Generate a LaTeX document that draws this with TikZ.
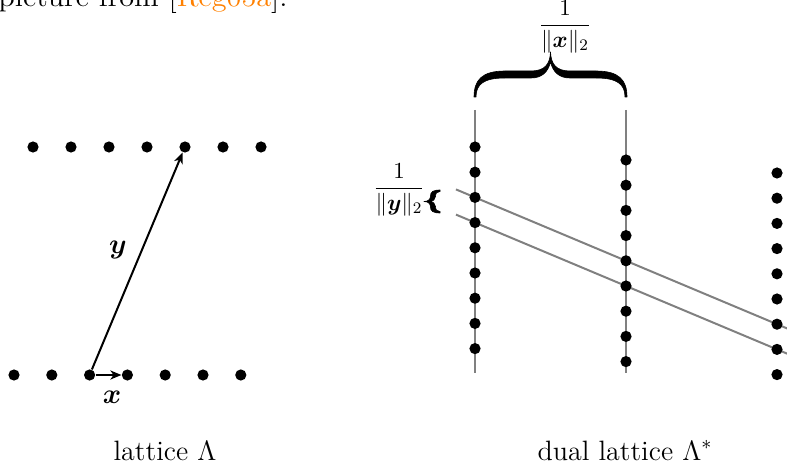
\documentclass[tikz,border=0pt]{standalone}
\usepackage{fix-cm}
\usepackage{amsmath}
\usepackage{fontspec}
\usetikzlibrary{arrows.meta,calc}
\definecolor{citeorange}{RGB}{255,128,0}
\definecolor{linegray}{RGB}{128,128,128}
\tikzset{
  dot/.style={circle, fill=black, inner sep=0pt, minimum size=5.6pt},
  grayline/.style={draw=linegray, line width=1pt},
  vec/.style={-{Stealth[length=5.5pt,width=4.5pt,inset=1.6pt]}, line width=1pt},
  txt/.style={font=\fontsize{14}{17}\selectfont, inner sep=0pt},
  fraclab/.style={font=\fontsize{11.5}{13}\selectfont, inner sep=0pt},
  bracefill/.style={fill=black, draw=black, line width=0.3pt, line join=round},
}
\begin{document}
\begin{tikzpicture}[x=0.5pt,y=-0.5pt]
\useasboundingbox (0,0) rectangle (787,470);
% cut-off text at the top
\node[txt, anchor=base east] (cite) at (288,7) {\scalebox{1.08}[1]{picture from [\textcolor{citeorange}{Reg05a}].}};

% ---------- lattice ----------
\foreach \k in {0,...,6} {
  \node[dot] (t\k) at ({33+38*\k},147) {};
  \node[dot] (b\k) at ({14+37.8*\k},375) {};
}
\draw[vec] (b2) -- (t4);
\draw[vec] (b2) -- (b3);
\node[txt] (ylab) at (118,250) {$\boldsymbol{y}$};
\node[txt] (xlab) at (112,397) {$\boldsymbol{x}$};
\node[txt, anchor=base] (cap1) at (165,460) {lattice $\Lambda$};

% ---------- dual lattice ----------
\coordinate (v1top) at (475,110);
\coordinate (v1bot) at (475,373);
\coordinate (v2top) at (626,110);
\coordinate (v2bot) at (626,373);
\draw[grayline] (v1top) -- (v1bot);
\draw[grayline] (v2top) -- (v2bot);

\coordinate (pa1) at (475,197.4);
\coordinate (pa2) at (626,260.8);
\coordinate (pb1) at (475,222.6);
\coordinate (pb2) at (626,286.0);
\draw[grayline] ($(pa1)!-0.126!(pa2)$) coordinate (la) -- ($(pa1)!2.07!(pa2)$) coordinate (ra);
\draw[grayline] ($(pb1)!-0.126!(pb2)$) coordinate (lb) -- ($(pb1)!2.07!(pb2)$) coordinate (rb);

\foreach \k in {0,...,8} {
  \node[dot] (c1-\k) at (475,{147+25.2*\k}) {};
  \node[dot] (c2-\k) at (626,{160+25.2*\k}) {};
  \node[dot] (c3-\k) at (777,{173+25.2*\k}) {};
}

% calligraphic brace over the two lines
\fill[bracefill]
  (474,97) .. controls (474,80) and (482,71) .. (505,71)
  -- (531,71) .. controls (545,71) and (550,64) .. (550.5,52)
  .. controls (551,64) and (556,71) .. (570,71)
  -- (596,71) .. controls (619,71) and (627,80) .. (627,97)
  -- (625,97) .. controls (625,84) and (617,78) .. (596,78)
  -- (570,78) .. controls (559,78) and (553,72) .. (550.5,62)
  .. controls (548,72) and (542,78) .. (531,78)
  -- (505,78) .. controls (484,78) and (476,84) .. (476,97) -- cycle;
\node[fraclab] (xnorm) at (565,27) {$\dfrac{1}{\|\boldsymbol{x}\|_2}$};
\node[fraclab] (ynorm) at (399,190) {$\dfrac{1}{\|\boldsymbol{y}\|_2}$};

% small bold brace beside the y-fraction
\fill[bracefill]
  (440,190) .. controls (433,190) and (430.5,192) .. (430.5,196)
  .. controls (430.5,199.5) and (428,201.5) .. (424,201.5)
  .. controls (428,201.5) and (430.5,203.5) .. (430.5,207)
  .. controls (430.5,211) and (433,213) .. (440,213)
  -- (440,211.5) .. controls (437,211.5) and (435.5,210) .. (435.5,206.5)
  .. controls (435.5,203.5) and (433,201.5) .. (429,201.5)
  .. controls (433,201.5) and (435.5,199.5) .. (435.5,196.5)
  .. controls (435.5,193) and (437,191.5) .. (440,191.5) -- cycle;

\node[txt, anchor=base] (cap2) at (625,460) {dual lattice $\Lambda^*$};
\end{tikzpicture}
\end{document}
